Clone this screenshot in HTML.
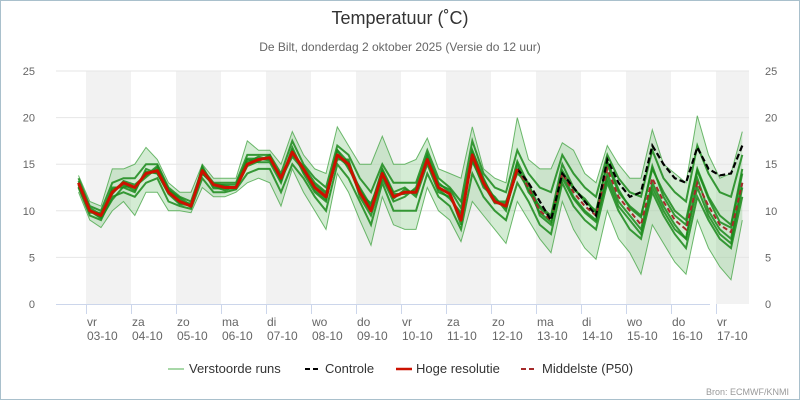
<!DOCTYPE html>
<html><head><meta charset="utf-8"><style>
html,body{margin:0;padding:0;background:#fff}
svg{display:block;font-family:"Liberation Sans","DejaVu Sans",sans-serif}
</style></head><body>
<svg id="chart" width="800" height="400" viewBox="0 0 800 400">
<rect x="0.5" y="0.5" width="799" height="399" fill="#fff" stroke="#a9c0cc"/>
<text x="400" y="24" text-anchor="middle" font-size="18" fill="#333">Temperatuur (˚C)</text>
<text x="400" y="51" text-anchor="middle" font-size="12" fill="#666">De Bilt, donderdag 2 oktober 2025 (Versie do 12 uur)</text>
<g id="bands"></g><g id="grid"></g><g id="series"></g><g id="axes"></g>
<g font-size="13" fill="#333">
<g><line x1="168" y1="369" x2="184" y2="369" stroke="#a8d8a8" stroke-width="2"/><text x="189" y="373">Verstoorde runs</text></g>
<g><line x1="305" y1="369" x2="321" y2="369" stroke="#000" stroke-width="2" stroke-dasharray="5,3"/><text x="325" y="373">Controle</text></g>
<g><line x1="396" y1="369" x2="412" y2="369" stroke="#cc1100" stroke-width="2.5"/><text x="416" y="373">Hoge resolutie</text></g>
<g><line x1="521" y1="369" x2="537" y2="369" stroke="#a52a2a" stroke-width="2" stroke-dasharray="5,3"/><text x="542" y="373">Middelste (P50)</text></g>
</g>
<text x="789" y="395" text-anchor="end" font-size="9" fill="#999">Bron: ECMWF/KNMI</text>
</svg>
<script>
const dayNames=["vr","za","zo","ma","di","wo","do","vr","za","zo","ma","di","wo","do","vr"];
const dayDates=["03-10","04-10","05-10","06-10","07-10","08-10","09-10","10-10","11-10","12-10","13-10","14-10","15-10","16-10","17-10"];
const yTicks=[0,5,10,15,20,25];
const hires=[13,10,9.5,12,13,12.5,14,14.3,12,11,10.5,14.3,12.8,12.5,12.5,15,15.5,15.7,13.5,16.3,14.5,12.5,11.5,16,15,12,10,14,11.5,12,12,15.5,12.5,11.8,9,16,13,11,10.5,14.5];
const p50=[14.5,12.5,10,9,14,12,10.5,9.5,14.5,11.5,10,8.5,13.5,11,9,8,13,10.5,8.5,7.7,13];
const control=[14.5,13,11,9,14,12.5,11,9.5,15.5,13,11.5,12,17,15,13.5,13,16.8,14.5,13.8,14,17];
const ensHi=[13.8,11,10.5,14.5,14.5,15,16.8,15.5,13,12,12,15,13.5,13.5,13.5,17.5,16.5,16.5,15,18.5,16,14.5,14,19,17,15,15,18,15,15,15.5,17.8,14.5,14,13.5,19,14.5,13.5,13,20,15.5,14.5,14.5,17.3,16.5,14,13,17,15,13.5,13.5,18.7,15,14,13,20.2,16,13.5,14,18.5];
const ensLo=[12,9,8.2,10,11,9.5,12,12,10,10,9.8,12.5,11.5,11.5,12,13,13.5,13,10.5,14.5,12,10,8,14,12,9,6.3,11.5,8.5,8,8,12.5,10,9,6.7,11,9.5,8,6.5,11,9,7,5.5,11,8,6,4.8,10,7,5.5,3.2,8.5,6.5,4.5,3.2,9,6,4,2.6,9];
const m1=[13.5,10.5,10,13,13.5,13.5,15,15,12.5,11.5,11,14.5,13,13,13,16,16,16,14,17.5,15,13.5,12.5,17,16,13.5,12,15,13,13,13,16.5,13.5,12.5,11,17.5,14,12.5,12,16.5,14,12.5,12,16,14,12.5,11.5,16,13.5,12,11.5,16.5,13.5,12,11,17,14,12,11.5,16];
const m2=[12.5,9.5,9,11.5,12,11.5,13,13.5,11,10.5,10.2,13.5,12,12,12.3,14,14.5,14.5,12,15,13.5,11.5,10,15,13.5,11,8.5,13,10,10,10,14,11.5,10.5,8,14,11.5,10,9,13,11,8.5,7.5,13,10.5,9,8,13,10,8,7,12,9.5,7.5,6,11.5,9,7,6,11.5];
const m3=[13,10,9.3,12.5,12.5,12,14.5,14,12,10.8,10.8,14,12.8,12.8,12.8,15.5,15.2,15.2,13,16.5,14,12,11,16.5,14.5,12.5,10.5,14.5,12,12.5,11.5,15,12,11.5,9.5,15.5,12.5,11.5,10,15,12,10.5,9.5,15,12.5,11,10,15,12,10.5,9.5,14.5,12,10,9,14.5,11.5,9.5,8.5,14.5];
const m4=[12.8,9.8,9.8,11.8,13.2,12.8,13.8,14.8,12.3,11.2,10.4,14.8,12.6,12.2,12.6,15.2,15.8,15.5,13.8,16,14.8,13,12,15.5,15.5,11.5,9.5,13.5,11,11.5,12.5,16,13,12,8.5,16.5,13.5,11,11,14,13,9.5,8.5,14,11.5,10,9,14,11,9.5,8,13,10.5,8.5,7,13.5,10,8,7,13];
const m5=[13.2,10.3,9.6,12.3,12.8,12.2,14.2,14,11.8,10.7,10.6,14,12.9,12.7,12.4,14.8,15.3,16,13.2,16.8,14.2,12.8,11.8,16.5,15.2,12.3,10.3,14.3,11.8,11.8,12.3,15.2,12.3,11.3,9.8,15.3,12.8,10.8,10.8,15.3,12.8,10.3,9.3,14.3,12.3,11.3,9.8,15.3,12.3,10.3,9.3,14.8,11.5,9.5,8.5,14.3,11.3,8.8,8.2,14];
const m6=[12.6,10,9.2,11.2,12.6,12.6,13.6,14.6,12.2,11.4,10.6,14.6,12.4,12.4,12.4,15.6,15.6,15.4,13.4,15.8,14.4,12.2,11.2,15.8,14.8,11.8,10.8,13.8,11.3,12.3,11.8,15.8,12.8,12.3,10.3,16.3,13.3,11.3,10.3,14.3,12.3,9.8,8.8,13.5,11.3,9.8,8.8,13.5,10.5,9,7.5,12.5,10,8,7,12.5,9.5,7.5,6.5,12.5];
const members=[m1,m2,m3,m4,m5,m6];

const NS="http://www.w3.org/2000/svg";
const X0=86, PXH=1.875, STEP=6, START=-4;
const yTop=71, yBot=304, yMax=25;
const xAt=h=>X0+h*PXH;
const xIdx=(i,off)=>xAt(START+(i+(off||0))*STEP);
const yVal=v=>yBot-(v/yMax)*(yBot-yTop);
function mk(tag,attrs,parent){const e=document.createElementNS(NS,tag);for(const k in attrs)e.setAttribute(k,attrs[k]);parent.appendChild(e);return e;}
const bands=document.getElementById('bands'),grid=document.getElementById('grid'),series=document.getElementById('series'),axes=document.getElementById('axes');
const plotL=56,plotR=749;
dayNames.forEach((d,i)=>{if(i%2===0){const x=xAt(i*24);const b=mk('rect',{x:x,y:yTop,width:Math.min(45,plotR-x),height:yBot-yTop,fill:'#f2f2f2'},bands);

}});
yTicks.forEach(t=>{const y=yVal(t);
if(t>0){const l=mk('line',{x1:plotL,x2:plotR,y1:y,y2:y,stroke:'#e6e6e6'},grid);

}
const a=mk('text',{x:35,y:y+4,'text-anchor':'end','font-size':11,fill:'#666'},axes);a.textContent=t;


const b=mk('text',{x:765,y:y+4,'font-size':11,fill:'#666'},axes);b.textContent=t;

});
const ax=mk('line',{x1:plotL,x2:710,y1:yBot+0.5,y2:yBot+0.5,stroke:'#ccd6eb'},axes);


dayNames.forEach((d,i)=>{const x=xAt(i*24);
const tk=mk('line',{x1:x+0.5,x2:x+0.5,y1:yBot,y2:yBot+10,stroke:'#ccd6eb'},axes);


const t1=mk('text',{x:x+1,y:yBot+22,'font-size':12,fill:'#666'},axes);t1.textContent=d;


const t2=mk('text',{x:x+1,y:yBot+36,'font-size':12,fill:'#666','text-anchor':'start'},axes);t2.textContent=dayDates[i];

});
function pts(arr,off){return arr.map((v,i)=>xIdx(i,off).toFixed(1)+','+yVal(v).toFixed(1)).join(' ');}
const env=ensHi.map((v,i)=>xIdx(i).toFixed(1)+','+yVal(v).toFixed(1)).concat(ensLo.map((v,i)=>[i,v]).reverse().map(p=>xIdx(p[0]).toFixed(1)+','+yVal(p[1]).toFixed(1))).join(' ');
const ep=mk('polygon',{points:env,fill:'#6fbf6f','fill-opacity':0.3},series);


[ensHi,ensLo].forEach(a=>{const l=mk('polyline',{points:pts(a),fill:'none',stroke:'#4aa84a','stroke-width':1,'stroke-opacity':0.8},series);

});
members.forEach(m=>{const l=mk('polyline',{points:pts(m),fill:'none',stroke:'#1a8a1a','stroke-width':2,'stroke-opacity':0.85},series);

});
const off=hires.length-1;
const pl=mk('polyline',{points:pts(p50,off),fill:'none',stroke:'#a52a2a','stroke-width':2,'stroke-dasharray':'5,3'},series);


const cl=mk('polyline',{points:pts(control,off),fill:'none',stroke:'#000','stroke-width':2.2,'stroke-dasharray':'6,3'},series);


const hl=mk('polyline',{points:pts(hires),fill:'none',stroke:'#cc1100','stroke-width':3,'stroke-linejoin':'round'},series);


</script>
</body></html>
